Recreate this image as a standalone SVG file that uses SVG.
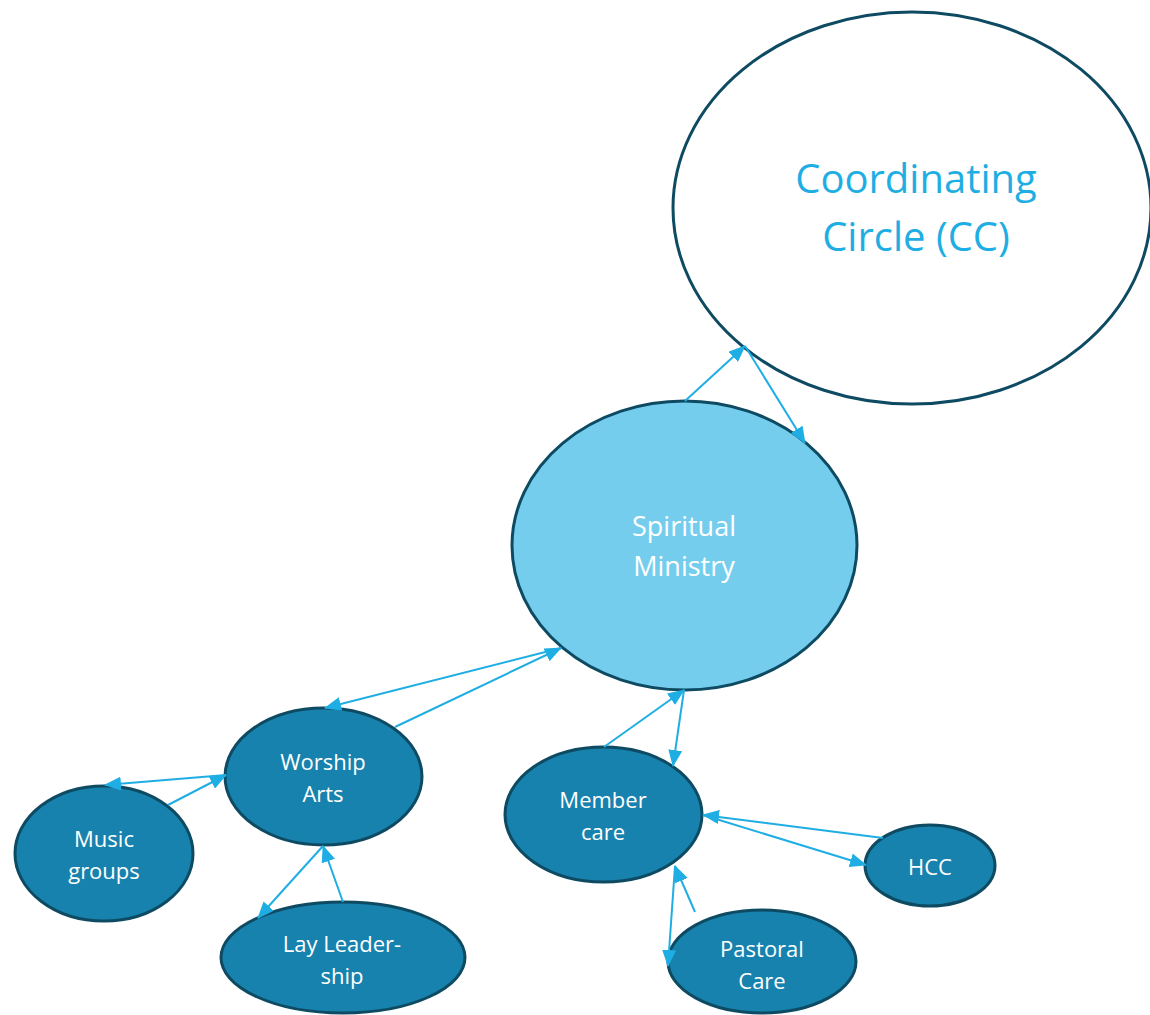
<svg xmlns="http://www.w3.org/2000/svg" width="1150" height="1015" viewBox="0 0 1150 1015">
<style>
.n{fill:#1782AD;stroke:#0E4B63;stroke-width:3}
.t{font-family:"Open Sans","Liberation Sans",sans-serif;fill:#fff;font-size:22px;text-anchor:middle}
.big{font-size:27px}
.c{stroke:#1FAEE3;stroke-width:2;fill:none;marker-end:url(#a)}
</style>
<defs>
<marker id="a" markerUnits="userSpaceOnUse" markerWidth="17" markerHeight="14" refX="16" refY="7" orient="auto">
<path d="M0,0 L17,7 L0,14 Z" fill="#1FAEE3"/>
</marker>
</defs>
<rect width="1150" height="1015" fill="#fff"/>
<g id="cc">
<ellipse cx="912" cy="208" rx="239" ry="196" fill="#fff" stroke="#0E4B63" stroke-width="3"/>
<text x="916" y="193" font-family="'Open Sans','Liberation Sans',sans-serif" font-size="40" fill="#1FAEE3" text-anchor="middle">Coordinating</text>
<text x="916" y="251" font-family="'Open Sans','Liberation Sans',sans-serif" font-size="40" fill="#1FAEE3" text-anchor="middle">Circle (CC)</text>
</g>
<g id="sm">
<ellipse cx="684.5" cy="545.5" rx="172.5" ry="144.5" fill="#75CDEE" stroke="#0E4B63" stroke-width="3"/>
<text class="t big" x="684" y="536">Spiritual</text>
<text class="t big" x="684" y="576">Ministry</text>
</g>
<g id="wa">
<ellipse class="n" cx="323.5" cy="776.5" rx="98.5" ry="68.5"/>
<text class="t" x="323" y="770">Worship</text>
<text class="t" x="323" y="802">Arts</text>
</g>
<g id="mg">
<ellipse class="n" cx="104" cy="853.5" rx="89" ry="67.5"/>
<text class="t" x="104" y="847">Music</text>
<text class="t" x="104" y="879">groups</text>
</g>
<g id="ll">
<ellipse class="n" cx="343" cy="957.5" rx="122" ry="55.5"/>
<text class="t" x="342" y="952">Lay Leader-</text>
<text class="t" x="342" y="984">ship</text>
</g>
<g id="mc">
<ellipse class="n" cx="603.5" cy="814.5" rx="98.5" ry="67.5"/>
<text class="t" x="603" y="808">Member</text>
<text class="t" x="603" y="840">care</text>
</g>
<g id="hcc">
<ellipse class="n" cx="930" cy="865.5" rx="65" ry="40.5"/>
<text class="t" x="930" y="875">HCC</text>
</g>
<g id="pc">
<ellipse class="n" cx="762" cy="961.5" rx="94" ry="51.5"/>
<text class="t" x="762" y="957">Pastoral</text>
<text class="t" x="762" y="989">Care</text>
</g>
<g id="connectors">
<line class="c" x1="685" y1="401" x2="745" y2="346"/>
<line class="c" x1="745" y1="346" x2="805" y2="443"/>
<line class="c" x1="395" y1="727" x2="561" y2="648"/>
<line class="c" x1="561" y1="648" x2="325" y2="708"/>
<line class="c" x1="168" y1="805" x2="226" y2="775"/>
<line class="c" x1="226" y1="775" x2="105" y2="785"/>
<line class="c" x1="323" y1="846" x2="258" y2="918"/>
<line class="c" x1="343" y1="902" x2="323" y2="846"/>
<line class="c" x1="604" y1="747" x2="684" y2="690"/>
<line class="c" x1="684" y1="690" x2="673" y2="766"/>
<line class="c" x1="883" y1="838" x2="703" y2="815"/>
<line class="c" x1="703" y1="815" x2="866" y2="865"/>
<line class="c" x1="695" y1="912" x2="675" y2="866"/>
<line class="c" x1="675" y1="866" x2="668" y2="966"/>
</g>
</svg>
